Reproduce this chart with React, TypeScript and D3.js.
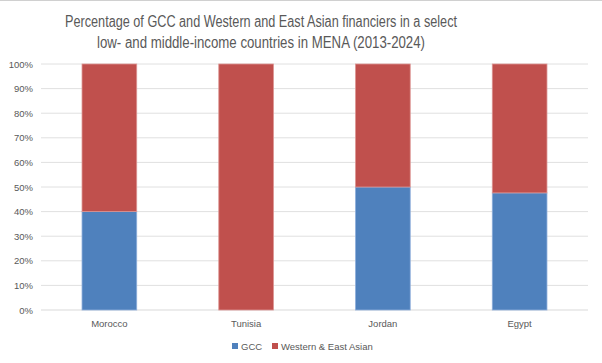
import React from "react";
import * as d3 from "d3";

const categories = ["Morocco", "Tunisia", "Jordan", "Egypt"];
const gcc = [40, 0, 50, 47.6];
const western = [60, 100, 50, 52.4];
const seriesNames = ["GCC", "Western & East Asian"];
const colors = ["#4f81bd", "#c0504d"];
const strokes = ["#8eaedb", "#dc9593"];
const yTicks = [0, 10, 20, 30, 40, 50, 60, 70, 80, 90, 100];
const titleLines = [
  "Percentage of GCC and Western and East Asian financiers in a select",
  "low- and middle-income countries in MENA (2013-2024)",
];
const titleWidths = [392, 328];

export default function App() {
  const W = 602, H = 363;
  const left = 41, right = 588, top = 64, bottom = 310;
  const x = d3.scaleBand().domain(categories).range([left, right]).paddingInner(0.6).paddingOuter(0.3);
  const y = d3.scaleLinear().domain([0, 100]).range([bottom, top]);
  const stackData = categories.map((c, i) => ({ cat: c, GCC: gcc[i], W: western[i] }));
  const stacked = d3.stack<any>().keys(["GCC", "W"])(stackData);
  const font = "'Liberation Sans', Arial, sans-serif";
  return (
    <svg width={W} height={H} style={{ position: "absolute", left: 0, top: 0, background: "#fff" }}>
      <rect x={0} y={0} width={W} height={H} fill="#fff" />
      <line x1={0} x2={W} y1={0.5} y2={0.5} stroke="#d0d0d0" />
      {titleLines.map((t, i) => (
        <text
          key={i}
          x={261}
          y={27 + i * 21}
          textAnchor="middle"
          fontFamily={font}
          fontSize={16}
          fill="#595959"
          textLength={titleWidths[i]}
          lengthAdjust="spacingAndGlyphs"
        >
          {t}
        </text>
      ))}
      {yTicks.map((t) => (
        <g key={t}>
          <line x1={left} x2={right} y1={y(t)} y2={y(t)} stroke={t === 0 ? "#d9d9d9" : "#e0e0e0"} strokeWidth={1} />
          <text x={33} y={y(t) + 3.5} textAnchor="end" fontFamily={font} fontSize={9.5} fill="#595959">
            {t}%
          </text>
        </g>
      ))}
      {stacked.map((s, si) =>
        s.map((d, i) =>
          d[1] - d[0] > 0 ? (
            <rect
              key={si + "-" + i}
              x={x(categories[i])!}
              y={y(d[1])}
              width={x.bandwidth()}
              height={y(d[0]) - y(d[1])}
              fill={colors[si]}
              stroke={strokes[si]}
              strokeWidth={0.8}
            />
          ) : null
        )
      )}
      {categories.map((c) => (
        <text key={c} x={x(c)! + x.bandwidth() / 2} y={327} textAnchor="middle" fontFamily={font} fontSize={9.5} fill="#595959">
          {c}
        </text>
      ))}
      <g>
        <rect x={232} y={343} width={6} height={6} fill={colors[0]} />
        <text x={241} y={349.5} fontFamily={font} fontSize={9.5} fill="#595959">{seriesNames[0]}</text>
        <rect x={272} y={343} width={6} height={6} fill={colors[1]} />
        <text x={281} y={349.5} fontFamily={font} fontSize={9.5} fill="#595959">{seriesNames[1]}</text>
      </g>
    </svg>
  );
}
